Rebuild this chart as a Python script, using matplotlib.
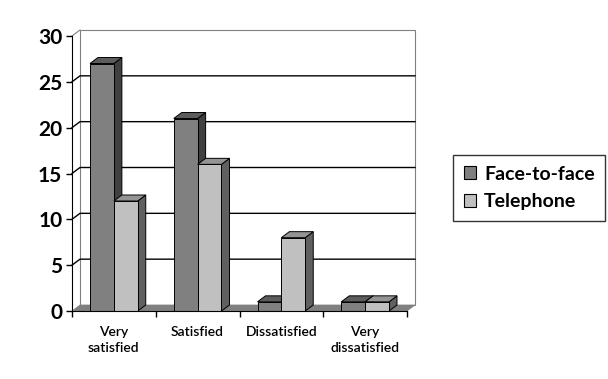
import matplotlib
matplotlib.use('Agg')
import matplotlib.pyplot as plt
from matplotlib.patches import Polygon, Patch

categories = ['Very\nsatisfied', 'Satisfied', 'Dissatisfied', 'Very\ndissatisfied']
face_to_face = [27, 21, 1, 1]
telephone = [12, 16, 8, 1]
series_names = ['Face-to-face', 'Telephone']

# front / side / top shades for each series
shades = [('#808080', '#404040', '#5c5c5c'),
          ('#c0c0c0', '#606060', '#949494')]

plt.rcParams['font.family'] = ['Lato', 'DejaVu Sans']

fig = plt.figure(figsize=(6.08, 3.79), dpi=100)
ax = fig.add_axes([72/608, 1-311/379, 335/608, 275/379])
ax.set_xlim(0, 4)
ax.set_ylim(0, 30)

# 3d depth in data units (about 8px right, 6px up)
dx = 8 / 83.75
dy = 6 / (275/30)
n = len(categories)

# back wall
ax.add_patch(Polygon([(dx, dy), (n+dx, dy), (n+dx, 30+dy), (dx, 30+dy)],
                     closed=True, facecolor='white', edgecolor='#808080',
                     lw=0.8, clip_on=False, zorder=1))
ax.plot([0, dx], [30, 30+dy], color='#808080', lw=0.8, clip_on=False, zorder=1)

# gridlines running across the side wall and back wall
for v in range(5, 30, 5):
    ax.plot([0, dx, n+dx], [v, v+dy, v+dy], color='black', lw=1.0,
            clip_on=False, zorder=2)

# floor
ax.add_patch(Polygon([(0, 0), (n, 0), (n+dx, dy), (dx, dy)], closed=True,
                     facecolor='#808080', edgecolor='#808080', lw=0.5,
                     clip_on=False, zorder=3))

width = 0.285
for i in range(n):
    for s, vals in enumerate([face_to_face, telephone]):
        x0 = i + 0.5 - width + s*width
        x1 = x0 + width
        v = vals[i]
        front, side, top = shades[s]
        kw = dict(closed=True, edgecolor='black', lw=0.7, clip_on=False, zorder=4)
        ax.add_patch(Polygon([(x1, 0), (x1+dx, dy), (x1+dx, v+dy), (x1, v)],
                             facecolor=side, **kw))
        ax.add_patch(Polygon([(x0, v), (x1, v), (x1+dx, v+dy), (x0+dx, v+dy)],
                             facecolor=top, **kw))
        ax.add_patch(Polygon([(x0, 0), (x1, 0), (x1, v), (x0, v)],
                             facecolor=front, **kw))

for sp in ['top', 'right']:
    ax.spines[sp].set_visible(False)
ax.spines['left'].set_zorder(6)
ax.spines['bottom'].set_zorder(6)

ax.set_yticks(range(0, 31, 5))
ax.tick_params(axis='y', length=4, width=1, pad=3, labelsize=15)
for lbl in ax.get_yticklabels():
    lbl.set_fontweight('bold')

ax.set_xticks(range(0, n+1))
ax.set_xticklabels([])
ax.tick_params(axis='x', which='major', length=4, width=1)
ax.set_xticks([i + 0.5 for i in range(n)], minor=True)
ax.set_xticklabels(categories, minor=True, fontsize=10, fontweight='semibold',
                   linespacing=1.35)
ax.tick_params(axis='x', which='minor', length=0, pad=11)

handles = [Patch(facecolor=shades[0][0], edgecolor='black', lw=0.8),
           Patch(facecolor=shades[1][0], edgecolor='black', lw=0.8)]
leg = fig.legend(handles, series_names, loc='center left',
                 bbox_to_anchor=(453/608, 1-188/379), borderaxespad=0,
                 frameon=True, fancybox=False, edgecolor='black',
                 handlelength=0.65, handleheight=0.65, handletextpad=0.4,
                 borderpad=0.55, labelspacing=0.55,
                 prop={'weight': 'bold', 'size': 14})
leg.get_frame().set_linewidth(1.0)

fig.savefig('out.png', dpi=100)
